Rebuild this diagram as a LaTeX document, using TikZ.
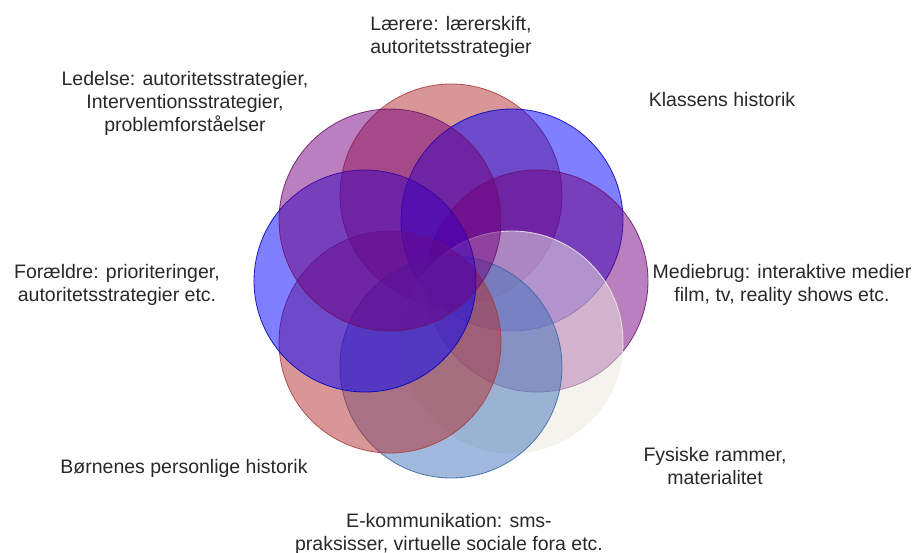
\documentclass[tikz,border=0pt]{standalone}
\usepackage{fontspec}
\setmainfont{Liberation Sans}
\definecolor{fred}{RGB}{180,45,45}
\definecolor{dred}{RGB}{165,60,60}
\definecolor{fblue}{RGB}{0,0,255}
\definecolor{dblue}{RGB}{0,0,185}
\definecolor{fpurp}{RGB}{115,0,125}
\definecolor{dpurp}{RGB}{105,20,105}
\definecolor{fwhite}{RGB}{235,232,222}
\definecolor{dwhite}{RGB}{242,240,234}
\definecolor{fsteel}{RGB}{65,115,185}
\definecolor{dsteel}{RGB}{60,100,165}
\definecolor{txt}{RGB}{40,40,40}
\begin{document}
\begin{tikzpicture}[x=1pt,y=-1pt,
  ringc/.style={circle, minimum size=222pt, inner sep=0pt, fill opacity=0.5, draw opacity=0.85, line width=0.8pt},
  lbl/.style={text=txt, align=center, font=\fontsize{19.5}{23}\selectfont, inner sep=0pt}]
\useasboundingbox (0,0) rectangle (917,553);
% circles, drawn clockwise from the top
\node[ringc, fill=fred,   draw=dred]   (c1) at (451,195) {};
\node[ringc, fill=fblue,  draw=dblue]  (c2) at (512,220) {};
\node[ringc, fill=fpurp,  draw=dpurp]  (c3) at (537,281) {};
\node[ringc, fill=fwhite, draw=dwhite] (c4) at (512,342) {};
\node[ringc, fill=fsteel, draw=dsteel] (c5) at (451,367) {};
\node[ringc, fill=fred,   draw=dred]   (c6) at (390,342) {};
\node[ringc, fill=fblue,  draw=dblue]  (c7) at (365,281) {};
\node[ringc, fill=fpurp,  draw=dpurp]  (c8) at (390,220) {};
% labels
\node[lbl] (t1) at (451,36.5) {Lærere: lærerskift,\\autoritetsstrategier};
\node[lbl] (t2) at (722,100) {Klassens historik};
\node[lbl] (t3) at (782,284.5) {Mediebrug: interaktive medier\\film, tv, reality shows etc.};
\node[lbl] (t4) at (715,466.5) {Fysiske rammer,\\materialitet};
\node[lbl] (t5) at (449,533.5) {E-kommunikation: sms-\\praksisser, virtuelle sociale fora etc.};
\node[lbl] (t6) at (184,468) {Børnenes personlige historik};
\node[lbl] (t7) at (117,284.5) {Forældre: prioriteringer,\\autoritetsstrategier etc.};
\node[lbl] (t8) at (185,103) {Ledelse: autoritetsstrategier,\\Interventionsstrategier,\\problemforståelser};
\end{tikzpicture}
\end{document}
